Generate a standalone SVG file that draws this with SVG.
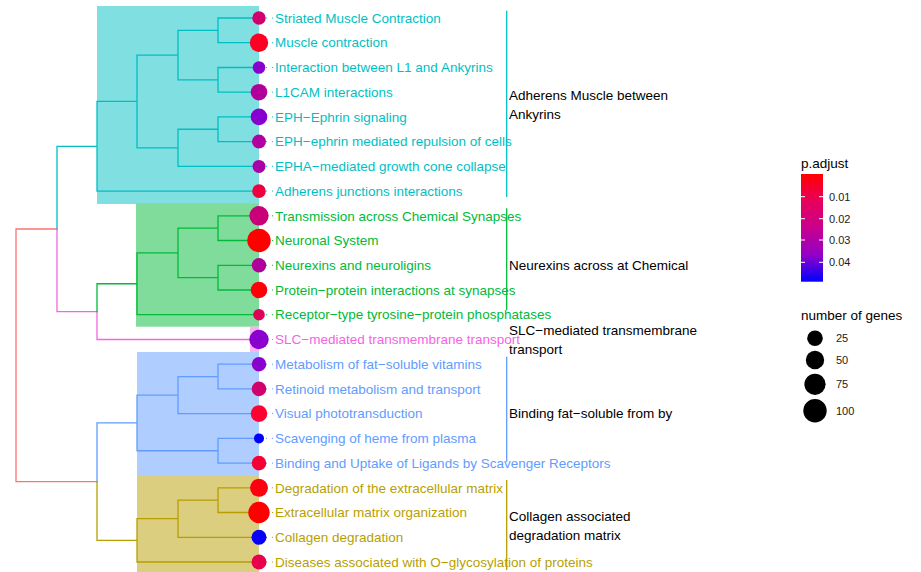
<svg xmlns="http://www.w3.org/2000/svg" width="921" height="572" viewBox="0 0 921 572">
<style>
text{font-family:"Liberation Sans",Arial,sans-serif;font-size:13.5px}
.t{fill:none;stroke-width:1.3;stroke-linecap:square}
.cy{stroke:#00BFC4}.gr{stroke:#00BA38}.pk{stroke:#F564E3}.bl{stroke:#619CFF}.ol{stroke:#B79F00}.rd{stroke:#F8766D}
.tcy{fill:#00BFC4}.tgr{fill:#00BA38}.tpk{fill:#F564E3}.tbl{fill:#619CFF}.tol{fill:#B79F00}
.lead{stroke-width:1;stroke-dasharray:1 5}
.bar{stroke-width:1.3}
.lg{font-size:11px;fill:#1a1a1a}
</style>
<defs>
<linearGradient id="pg" x1="0" y1="0" x2="0" y2="1">
<stop offset="0" stop-color="#FF0000"/>
<stop offset="0.25" stop-color="#E8005B"/>
<stop offset="0.5" stop-color="#C9008E"/>
<stop offset="0.75" stop-color="#9400C6"/>
<stop offset="1" stop-color="#0000FF"/>
</linearGradient>
</defs>
<rect width="921" height="572" fill="#fff"/>
<g id="backgrounds">
<rect x="97" y="6" width="162" height="198" fill="#7FDFE1"/>
<rect x="136" y="203.3" width="123" height="123.4" fill="#7FDC9B"/>
<rect x="250" y="326.7" width="9" height="25.3" fill="#FAB1F1"/>
<rect x="137" y="352" width="122" height="123" fill="#B0CDFF"/>
<rect x="137" y="475" width="122" height="97" fill="#DBCF7F"/>
</g>
<g id="connectors">
<path class="t rd" d="M57,229H16V481.6H97"/>
<path class="t cy" d="M57,229V146.3H97M97,101.45V191.1H259M97,101.45H137M137,55.1V147.8M137,55.1H178M137,147.8H178M178,30.35V79.85M178,30.35H218M178,79.85H218M218,18V42.7M218,18H259M218,42.7H259M218,67.5V92.2M218,67.5H259M218,92.2H259M178,129.25V166.4H259M178,129.25H218M218,116.9V141.6M218,116.9H259M218,141.6H259"/>
<path class="t pk" d="M57,229V311.7H97V339.5H259"/>
<path class="t gr" d="M97,311.7V283.75H137M137,252.8V314.7H259M137,252.8H178M178,228.15V277.65M178,228.15H218M178,277.65H218M218,215.8V240.5M218,215.8H259M218,240.5H259M218,265.3V290M218,265.3H259M218,290H259"/>
<path class="t bl" d="M97,481.6V422.9H137M137,395.1V450.75H218M137,395.1H178M178,376.55V413.6H259M178,376.55H218M218,364.2V388.9M218,364.2H259M218,388.9H259M218,438.4V463.1M218,438.4H259M218,463.1H259"/>
<path class="t ol" d="M97,481.6V540.4H137M137,518.7V562H259M137,518.7H178M178,500.15V537.3H259M178,500.15H218M218,487.8V512.5M218,487.8H259M218,512.5H259"/>
<g class="lead">
<path class="cy" d="M260,18H274M260,42.7H274M260,67.5H274M260,92.2H274M260,116.9H274M260,141.6H274M260,166.4H274M260,191.1H274"/>
<path class="gr" d="M260,215.8H274M260,240.5H274M260,265.3H274M260,290H274M260,314.7H274"/>
<path class="pk" d="M260,339.5H274"/>
<path class="bl" d="M260,364.2H274M260,388.9H274M260,413.6H274M260,438.4H274M260,463.1H274"/>
<path class="ol" d="M260,487.8H274M260,512.5H274M260,537.3H274M260,562H274"/>
</g>
<path class="bar cy" d="M506.7,10.7V197"/>
<path class="bar gr" d="M506.7,208.3V310"/>
<path class="bar bl" d="M506.7,356.7V461.7"/>
<path class="bar ol" d="M506.7,480V570"/>
</g>
<g id="nodes">
<g id="n0"><circle cx="259" cy="18" r="6.7" fill="#D2006C"/><text x="275" y="22.7" class="tcy">Striated Muscle Contraction</text></g>
<g id="n1"><circle cx="259" cy="42.7" r="9.2" fill="#FF0022"/><text x="275" y="47.4" class="tcy">Muscle contraction</text></g>
<g id="n2"><circle cx="259" cy="67.5" r="6.3" fill="#8800CE"/><text x="275" y="72.2" class="tcy">Interaction between L1 and Ankyrins</text></g>
<g id="n3"><circle cx="259" cy="92.2" r="8.3" fill="#B1009A"/><text x="275" y="96.9" class="tcy">L1CAM interactions</text></g>
<g id="n4"><circle cx="259" cy="116.9" r="8.3" fill="#8800CF"/><text x="275" y="121.6" class="tcy">EPH−Ephrin signaling</text></g>
<g id="n5"><circle cx="259" cy="141.6" r="7" fill="#B000A0"/><text x="275" y="146.3" class="tcy">EPH−ephrin mediated repulsion of cells</text></g>
<g id="n6"><circle cx="259" cy="166.4" r="6.5" fill="#A900A8"/><text x="275" y="171.1" class="tcy">EPHA−mediated growth cone collapse</text></g>
<g id="n7"><circle cx="259" cy="191.1" r="6.8" fill="#EE0040"/><text x="275" y="195.8" class="tcy">Adherens junctions interactions</text></g>
<g id="n8"><circle cx="259" cy="215.8" r="9.7" fill="#CA0078"/><text x="275" y="220.5" class="tgr">Transmission across Chemical Synapses</text></g>
<g id="n9"><circle cx="259" cy="240.5" r="11.7" fill="#FF0000"/><text x="275" y="245.2" class="tgr">Neuronal System</text></g>
<g id="n10"><circle cx="259" cy="265.3" r="7.2" fill="#B0009A"/><text x="275" y="270" class="tgr">Neurexins and neuroligins</text></g>
<g id="n11"><circle cx="259" cy="290" r="8.3" fill="#FF0008"/><text x="275" y="294.7" class="tgr">Protein−protein interactions at synapses</text></g>
<g id="n12"><circle cx="259" cy="314.7" r="5.8" fill="#E0005A"/><text x="275" y="319.4" class="tgr">Receptor−type tyrosine−protein phosphatases</text></g>
<g id="n13"><circle cx="259" cy="339.5" r="9.7" fill="#8A00CE"/><text x="275" y="344.2" class="tpk">SLC−mediated transmembrane transport</text></g>
<g id="n14"><circle cx="259" cy="364.2" r="7.2" fill="#8A00CC"/><text x="275" y="368.9" class="tbl">Metabolism of fat−soluble vitamins</text></g>
<g id="n15"><circle cx="259" cy="388.9" r="7.3" fill="#D0006C"/><text x="275" y="393.6" class="tbl">Retinoid metabolism and transport</text></g>
<g id="n16"><circle cx="259" cy="413.6" r="8.3" fill="#FF0030"/><text x="275" y="418.3" class="tbl">Visual phototransduction</text></g>
<g id="n17"><circle cx="259" cy="438.4" r="5" fill="#0000FF"/><text x="275" y="443.1" class="tbl">Scavenging of heme from plasma</text></g>
<g id="n18"><circle cx="259" cy="463.1" r="7.3" fill="#F50036"/><text x="275" y="467.8" class="tbl">Binding and Uptake of Ligands by Scavenger Receptors</text></g>
<g id="n19"><circle cx="259" cy="487.8" r="9" fill="#FF0010"/><text x="275" y="492.5" class="tol">Degradation of the extracellular matrix</text></g>
<g id="n20"><circle cx="259" cy="512.5" r="10.7" fill="#FF0000"/><text x="275" y="517.2" class="tol">Extracellular matrix organization</text></g>
<g id="n21"><circle cx="259" cy="537.3" r="7.5" fill="#0600F8"/><text x="275" y="542" class="tol">Collagen degradation</text></g>
<g id="n22"><circle cx="259" cy="562" r="7.5" fill="#E8004F"/><text x="275" y="566.7" class="tol">Diseases associated with O−glycosylation of proteins</text></g>
</g>
<g id="cluster-labels" fill="#000">
<text x="509" y="99.7">Adherens Muscle between</text>
<text x="509" y="119.2">Ankyrins</text>
<text x="509" y="270.4">Neurexins across at Chemical</text>
<text x="509" y="334.7">SLC−mediated transmembrane</text>
<text x="509" y="354.2">transport</text>
<text x="509" y="418.2">Binding fat−soluble from by</text>
<text x="509" y="520.5">Collagen associated</text>
<text x="509" y="540">degradation matrix</text>
</g>
<g id="legend">
<text x="801" y="167.7" fill="#000">p.adjust</text>
<rect x="801" y="174" width="22" height="107.7" fill="url(#pg)"/>
<path stroke="#fff" stroke-width="1" d="M801,196.7h4M819,196.7h4M801,218.7h4M819,218.7h4M801,240h4M819,240h4M801,262.3h4M819,262.3h4"/>
<text class="lg" x="829" y="200.5">0.01</text>
<text class="lg" x="829" y="222.5">0.02</text>
<text class="lg" x="829" y="243.8">0.03</text>
<text class="lg" x="829" y="266.1">0.04</text>
<text x="801" y="319.7" fill="#000">number of genes</text>
<circle cx="815" cy="338.3" r="7.8" fill="#000"/>
<circle cx="815" cy="360" r="9.2" fill="#000"/>
<circle cx="815" cy="384.3" r="10.6" fill="#000"/>
<circle cx="815" cy="410.7" r="11.7" fill="#000"/>
<text class="lg" x="836" y="342.2">25</text>
<text class="lg" x="836" y="363.9">50</text>
<text class="lg" x="836" y="388.2">75</text>
<text class="lg" x="836" y="414.6">100</text>
</g>
</svg>
